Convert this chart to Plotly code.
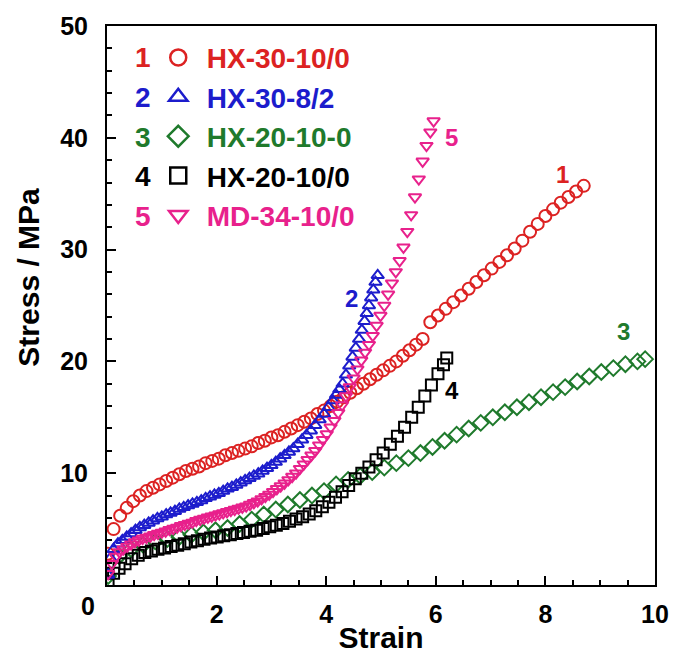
import plotly.graph_objects as go

# ---------------- data ----------------
strain1 = [0.02, 0.12, 0.24, 0.36, 0.48, 0.60, 0.72, 0.84, 0.96, 1.08, 1.20, 1.32, 1.44, 1.56,
           1.68, 1.80, 1.92, 2.04, 2.16, 2.28, 2.40, 2.52, 2.64, 2.76, 2.88, 3.00, 3.12, 3.24,
           3.36, 3.48, 3.60, 3.72, 3.84, 3.96, 4.08, 4.20, 4.32, 4.44, 4.56, 4.68, 4.80, 4.92,
           5.04, 5.16, 5.28, 5.40, 5.52, 5.64, 5.76, 5.90, 6.04, 6.18, 6.32, 6.46, 6.60, 6.74,
           6.88, 7.02, 7.16, 7.30, 7.44, 7.58, 7.72, 7.86, 8.00, 8.14, 8.28, 8.42, 8.56, 8.70]
stress1 = [2.8, 5.0, 6.2, 6.9, 7.5, 8.0, 8.4, 8.7, 9.0, 9.3, 9.6, 9.9, 10.2, 10.4,
           10.6, 10.9, 11.1, 11.3, 11.6, 11.8, 12.0, 12.2, 12.4, 12.7, 12.9, 13.2, 13.4, 13.7,
           14.0, 14.3, 14.6, 14.9, 15.3, 15.6, 16.0, 16.4, 16.8, 17.2, 17.6, 18.0, 18.4, 18.8,
           19.2, 19.6, 20.0, 20.5, 21.0, 21.5, 22.0, 23.5, 24.1, 24.7, 25.3, 25.9, 26.5, 27.1,
           27.7, 28.3, 28.9, 29.5, 30.1, 30.8, 31.6, 32.3, 33.0, 33.6, 34.2, 34.7, 35.2, 35.7]

strain2 = [0.02, 0.06, 0.12, 0.20, 0.28, 0.36, 0.44, 0.52, 0.60, 0.68, 0.76, 0.84, 0.92, 1.00,
           1.08, 1.16, 1.24, 1.32, 1.40, 1.48, 1.56, 1.64, 1.72, 1.80, 1.88, 1.96, 2.04, 2.12,
           2.20, 2.28, 2.36, 2.44, 2.52, 2.60, 2.68, 2.76, 2.84, 2.92, 3.00, 3.08, 3.16, 3.24,
           3.32, 3.40, 3.48, 3.56, 3.64, 3.72, 3.80, 3.88, 3.96, 4.04, 4.12, 4.18, 4.24, 4.30,
           4.36, 4.42, 4.48, 4.54, 4.60, 4.65, 4.70, 4.74, 4.78, 4.82, 4.86, 4.90, 4.94]
stress2 = [0.9, 2.4, 3.2, 3.7, 4.0, 4.3, 4.6, 4.9, 5.15, 5.35, 5.55, 5.75, 5.95, 6.1,
           6.3, 6.45, 6.6, 6.8, 6.95, 7.1, 7.25, 7.4, 7.55, 7.75, 7.9, 8.05, 8.2, 8.4,
           8.6, 8.75, 8.95, 9.15, 9.35, 9.55, 9.75, 9.95, 10.2, 10.45, 10.7, 11.0, 11.3, 11.6,
           11.9, 12.2, 12.6, 13.0, 13.4, 13.8, 14.3, 14.8, 15.3, 15.9, 16.5, 17.0, 17.5, 18.0,
           18.8, 19.6, 20.4, 21.2, 22.0, 22.8, 23.6, 24.3, 25.0, 25.7, 26.4, 27.1, 27.7]

strain3 = [0.02, 0.22, 0.44, 0.66, 0.88, 1.10, 1.32, 1.54, 1.76, 1.98, 2.20, 2.42, 2.64, 2.86,
           3.08, 3.30, 3.52, 3.74, 3.96, 4.18, 4.40, 4.62, 4.84, 5.06, 5.28, 5.50, 5.72, 5.94,
           6.16, 6.38, 6.60, 6.82, 7.04, 7.26, 7.48, 7.70, 7.92, 8.14, 8.36, 8.58, 8.80, 9.02,
           9.24, 9.46, 9.68, 9.82]
stress3 = [0.8, 2.6, 3.2, 3.6, 3.9, 4.1, 4.3, 4.5, 4.7, 4.9, 5.1, 5.45, 5.85, 6.3,
           6.75, 7.2, 7.6, 8.0, 8.4, 9.0, 9.4, 9.75, 10.1, 10.5, 10.9, 11.35, 11.8, 12.35,
           12.9, 13.45, 14.0, 14.5, 15.0, 15.45, 15.9, 16.35, 16.8, 17.25, 17.7, 18.2, 18.65, 19.05,
           19.4, 19.75, 20.0, 20.2]

strain4 = [0.02, 0.12, 0.22, 0.33, 0.45, 0.57, 0.69, 0.81, 0.93, 1.05, 1.17, 1.29, 1.41, 1.53,
           1.65, 1.77, 1.89, 2.01, 2.13, 2.25, 2.37, 2.49, 2.61, 2.73, 2.85, 2.97, 3.09, 3.21,
           3.33, 3.45, 3.57, 3.69, 3.81, 3.93, 4.05, 4.17, 4.29, 4.41, 4.53, 4.65, 4.78, 4.91,
           5.04, 5.17, 5.30, 5.43, 5.56, 5.68, 5.80, 5.92, 6.04, 6.14, 6.20]
stress4 = [0.3, 1.05, 1.5, 1.9, 2.35, 2.65, 2.9, 3.05, 3.2, 3.3, 3.45, 3.55, 3.7, 3.85,
           3.95, 4.1, 4.2, 4.3, 4.4, 4.5, 4.6, 4.7, 4.8, 4.9, 5.05, 5.2, 5.35, 5.5,
           5.7, 5.9, 6.1, 6.35, 6.65, 7.0, 7.4, 7.85, 8.35, 8.9, 9.5, 10.0, 10.55, 11.2,
           11.8, 12.6, 13.3, 14.1, 15.0, 15.9, 16.9, 17.9, 18.9, 19.7, 20.3]

strain5 = [0.02, 0.09, 0.16, 0.23, 0.30, 0.37, 0.44, 0.51, 0.58, 0.65, 0.72, 0.79, 0.86, 0.93,
           1.00, 1.07, 1.14, 1.21, 1.28, 1.35, 1.42, 1.49, 1.56, 1.63, 1.70, 1.77, 1.84, 1.91,
           1.98, 2.05, 2.12, 2.19, 2.26, 2.33, 2.40, 2.47, 2.54, 2.61, 2.68, 2.75, 2.82, 2.89,
           2.96, 3.03, 3.10, 3.17, 3.24, 3.31, 3.38, 3.45, 3.52, 3.59, 3.66, 3.73, 3.80, 3.87,
           3.94, 4.01, 4.08, 4.15, 4.22, 4.29, 4.36, 4.43, 4.50, 4.57, 4.64, 4.71, 4.78, 4.85,
           4.92, 4.99, 5.06, 5.13, 5.20, 5.27, 5.34, 5.41, 5.48, 5.55, 5.62, 5.69, 5.76, 5.83,
           5.90, 5.96]
stress5 = [1.0, 1.9, 2.55, 2.95, 3.2, 3.45, 3.65, 3.85, 4.0, 4.15, 4.25, 4.35, 4.5, 4.6,
           4.7, 4.8, 4.95, 5.05, 5.15, 5.3, 5.4, 5.5, 5.6, 5.75, 5.85, 5.95, 6.05, 6.15,
           6.25, 6.35, 6.45, 6.55, 6.65, 6.75, 6.85, 6.95, 7.05, 7.2, 7.35, 7.5, 7.7, 7.9,
           8.1, 8.35, 8.6, 8.85, 9.1, 9.4, 9.7, 10.0, 10.4, 10.8, 11.2, 11.6, 12.0, 12.5,
           13.0, 13.5, 14.1, 14.7, 15.4, 16.1, 16.9, 17.7, 18.5, 19.3, 20.1, 20.8, 21.5, 22.3,
           23.2, 24.1, 25.0, 26.0, 27.0, 28.0, 29.0, 30.2, 31.6, 33.1, 34.7, 36.3, 37.9, 39.3,
           40.5, 41.5]

sample_names = ["HX-30-10/0", "HX-30-8/2", "HX-20-10-0", "HX-20-10/0", "MD-34-10/0"]
curve_ids = ["1", "2", "3", "4", "5"]
colors = ["#dc2222", "#1c1ccc", "#1f7a2c", "#000000", "#e8218c"]
symbols = ["circle-open", "triangle-up-open", "diamond-open", "square-open", "triangle-down-open"]
marker_sizes = [12, 11, 12, 11, 11]
# positions of the curve-end numbers (data coords)
label_x = [8.32, 4.47, 9.42, 6.29, 6.29]
label_y = [36.7, 25.6, 22.7, 17.4, 40.0]

xs = [strain1, strain2, strain3, strain4, strain5]
ys = [stress1, stress2, stress3, stress4, stress5]

FONT = "Liberation Sans, Arial, sans-serif"

fig = go.Figure()

draw_order = [0, 2, 3, 1, 4]
for i in draw_order:
    fig.add_trace(go.Scatter(
        x=xs[i], y=ys[i], mode="markers", showlegend=False,
        marker=dict(symbol=symbols[i], size=marker_sizes[i], color=colors[i],
                    line=dict(width=2, color=colors[i])),
    ))

# legend entries (key symbols only)
for i in range(5):
    fig.add_trace(go.Scatter(
        x=[None], y=[None], mode="markers",
        name="<span style='color:%s'>%s</span>" % (colors[i], sample_names[i]),
        marker=dict(symbol=symbols[i], size=16, color=colors[i], line=dict(width=2.5, color=colors[i])),
    ))

# curve-end labels
for i in range(5):
    fig.add_annotation(x=label_x[i], y=label_y[i], text="<b>%s</b>" % curve_ids[i],
                       showarrow=False, font=dict(family=FONT, size=24, color=colors[i]))

# legend numbers
row_y = [0.9428, 0.8721, 0.8014, 0.7308, 0.6601]
for i in range(5):
    fig.add_annotation(xref="paper", yref="paper", x=0.0657, y=row_y[i], text="<b>%s</b>" % curve_ids[i],
                       showarrow=False, xanchor="center", yanchor="middle",
                       font=dict(family=FONT, size=28, color=colors[i]))

# shared origin label
fig.add_annotation(xref="paper", yref="paper", x=-0.0347, y=-0.0376, text="<b>0</b>",
                   showarrow=False, xanchor="center", yanchor="middle",
                   font=dict(family=FONT, size=25, color="black"))

# y-axis title
fig.add_annotation(xref="paper", yref="paper", x=-0.144, y=0.55, text="<b>Stress / MPa</b>",
                   showarrow=False, textangle=-90, xanchor="center", yanchor="middle",
                   font=dict(family=FONT, size=30, color="black"))

axis_common = dict(
    showgrid=False, zeroline=False, showline=True, linecolor="black", linewidth=2,
    mirror=True, ticks="inside", ticklen=9, tickwidth=1.5, tickcolor="black",
    tickfont=dict(family=FONT, size=25, color="black", weight="bold"),
)

fig.update_xaxes(range=[0, 10], tickvals=[2, 4, 6, 8, 10], ticklabelstandoff=6,
                 minor=dict(dtick=0.5, tick0=0, ticks="inside", ticklen=5, tickwidth=1.5, tickcolor="black"),
                 title=dict(text="<b>Strain</b>", font=dict(family=FONT, size=30, color="black"), standoff=0),
                 **axis_common)
fig.update_yaxes(range=[0, 50], tickvals=[10, 20, 30, 40, 50], ticklabelstandoff=12,
                 minor=dict(dtick=2, tick0=0, ticks="inside", ticklen=5, tickwidth=1.5, tickcolor="black"),
                 **axis_common)

fig.update_layout(
    width=673, height=657,
    margin=dict(l=107, r=18, t=26, b=72, autoexpand=False),
    paper_bgcolor="white", plot_bgcolor="white",
    showlegend=True,
    legend=dict(x=0.078, y=0.988, xanchor="left", yanchor="top", bgcolor="rgba(0,0,0,0)",
                font=dict(family=FONT, size=28, weight="bold"), itemwidth=47,
                tracegroupgap=0),
)

fig.write_html("out.html")
